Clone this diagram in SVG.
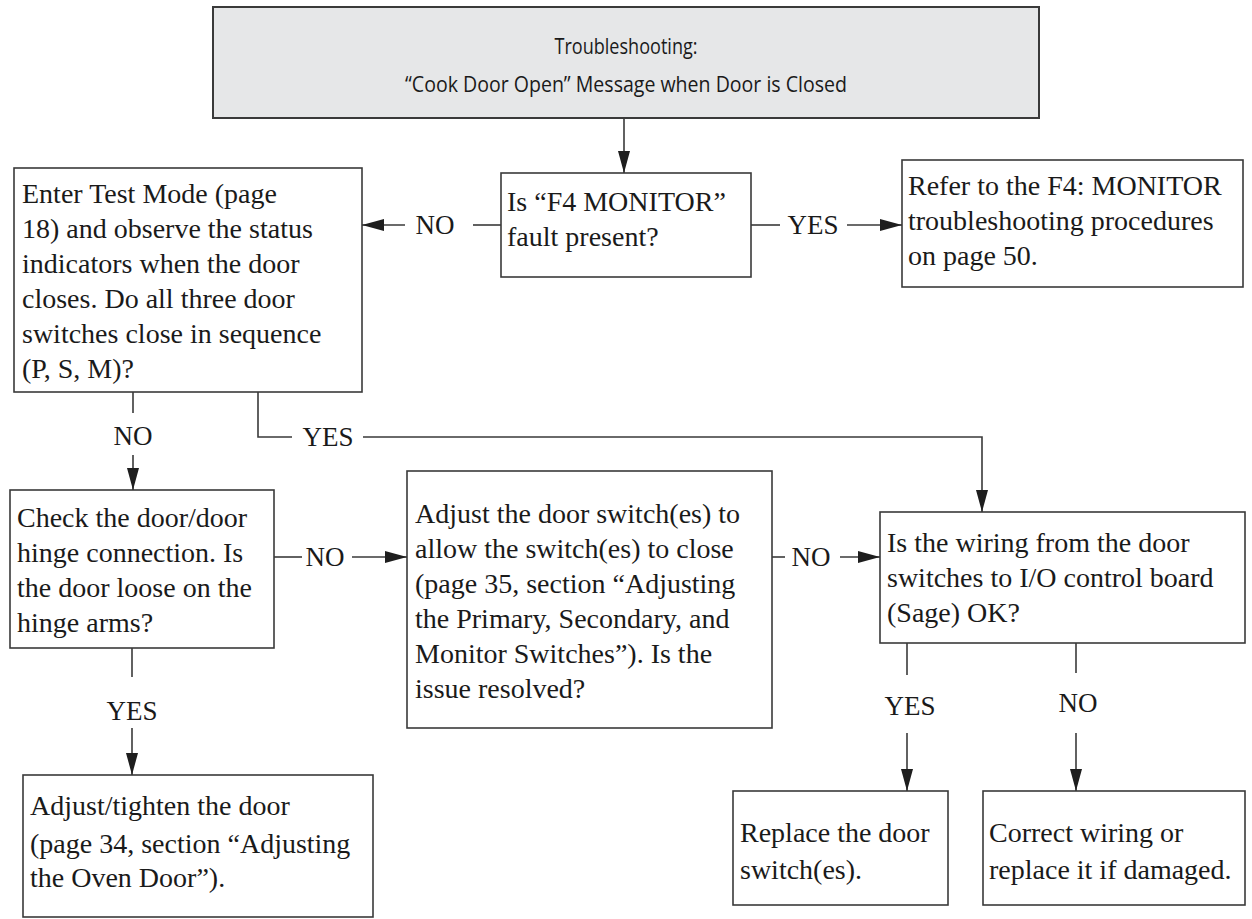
<svg xmlns="http://www.w3.org/2000/svg" width="1252" height="919" viewBox="0 0 1252 919">
<style>
.box{fill:#fff;stroke:#3a3a3a;stroke-width:1.6}
.title{fill:#e6e7e8;stroke:#3a3a3a;stroke-width:2}
.t{font-family:"Liberation Serif","Times New Roman",serif;font-size:28px;fill:#1a1a1a}
.lb{font-family:"Liberation Serif","Times New Roman",serif;font-size:27px;fill:#1a1a1a;text-anchor:middle}
.s{font-family:"Open Sans","Noto Sans",sans-serif;font-size:21px;fill:#1a1a1a;text-anchor:middle}
.c{fill:none;stroke:#3a3a3a;stroke-width:1.6}
.a{marker-end:url(#ah)}
</style>
<defs>
<marker id="ah" markerUnits="userSpaceOnUse" markerWidth="22" markerHeight="12" refX="22" refY="6" orient="auto">
<path d="M0,0 L22,6 L0,12 Z" fill="#1e1e1e"/>
</marker>
</defs>
<g id="title">
<rect class="title" x="213" y="7" width="826" height="111"/>
<text class="s" x="626" y="54" textLength="143" lengthAdjust="spacingAndGlyphs">Troubleshooting:</text>
<text class="s" x="626" y="92" textLength="442" lengthAdjust="spacingAndGlyphs">“Cook Door Open” Message when Door is Closed</text>
</g>
<g id="f4">
<rect class="box" x="501" y="173" width="250" height="104"/>
<text class="t" x="507" y="211">Is “F4 MONITOR”</text>
<text class="t" x="507" y="246">fault present?</text>
</g>
<g id="refer">
<rect class="box" x="902" y="160" width="341" height="127"/>
<text class="t" x="908" y="195">Refer to the F4: MONITOR</text>
<text class="t" x="908" y="230">troubleshooting procedures</text>
<text class="t" x="908" y="265">on page 50.</text>
</g>
<g id="enter">
<rect class="box" x="14" y="168" width="348" height="224"/>
<text class="t" x="22" y="203">Enter Test Mode (page</text>
<text class="t" x="22" y="238">18) and observe the status</text>
<text class="t" x="22" y="273">indicators when the door</text>
<text class="t" x="22" y="308">closes. Do all three door</text>
<text class="t" x="22" y="343">switches close in sequence</text>
<text class="t" x="22" y="378">(P, S, M)?</text>
</g>
<g id="check">
<rect class="box" x="10" y="490" width="264" height="158"/>
<text class="t" x="17" y="527">Check the door/door</text>
<text class="t" x="17" y="562">hinge connection. Is</text>
<text class="t" x="17" y="597">the door loose on the</text>
<text class="t" x="17" y="632">hinge arms?</text>
</g>
<g id="adjust">
<rect class="box" x="407" y="471" width="365" height="257"/>
<text class="t" x="415" y="523">Adjust the door switch(es) to</text>
<text class="t" x="415" y="558">allow the switch(es) to close</text>
<text class="t" x="415" y="593">(page 35, section “Adjusting</text>
<text class="t" x="415" y="628">the Primary, Secondary, and</text>
<text class="t" x="415" y="663">Monitor Switches”). Is the</text>
<text class="t" x="415" y="698">issue resolved?</text>
</g>
<g id="wiring">
<rect class="box" x="880" y="512" width="365" height="131"/>
<text class="t" x="887" y="552">Is the wiring from the door</text>
<text class="t" x="887" y="587">switches to I/O control board</text>
<text class="t" x="887" y="622">(Sage) OK?</text>
</g>
<g id="tighten">
<rect class="box" x="23" y="775" width="350" height="142"/>
<text class="t" x="30" y="815">Adjust/tighten the door</text>
<text class="t" x="30" y="853">(page 34, section “Adjusting</text>
<text class="t" x="30" y="887">the Oven Door”).</text>
</g>
<g id="replace">
<rect class="box" x="733" y="791" width="215" height="114"/>
<text class="t" x="740" y="842">Replace the door</text>
<text class="t" x="740" y="879">switch(es).</text>
</g>
<g id="correct">
<rect class="box" x="983" y="791" width="262" height="114"/>
<text class="t" x="989" y="842">Correct wiring or</text>
<text class="t" x="989" y="879">replace it if damaged.</text>
</g>
<g id="connectors">
<line class="c a" x1="624" y1="118" x2="624" y2="173"/>
<line class="c" x1="501" y1="225" x2="473" y2="225"/>
<text class="lb" x="435" y="234">NO</text>
<line class="c a" x1="405" y1="225" x2="362" y2="225"/>
<line class="c" x1="751" y1="225" x2="780" y2="225"/>
<text class="lb" x="813" y="234">YES</text>
<line class="c a" x1="847" y1="225" x2="902" y2="225"/>
<line class="c" x1="133" y1="392" x2="133" y2="413"/>
<text class="lb" x="133" y="445">NO</text>
<line class="c a" x1="133" y1="455" x2="133" y2="490"/>
<polyline class="c" points="258,392 258,437 292,437"/>
<text class="lb" x="328" y="446">YES</text>
<polyline class="c a" points="363,437 982,437 982,512"/>
<line class="c" x1="274" y1="557" x2="302" y2="557"/>
<text class="lb" x="325" y="566">NO</text>
<line class="c a" x1="352" y1="557" x2="407" y2="557"/>
<line class="c" x1="772" y1="557" x2="785" y2="557"/>
<text class="lb" x="811" y="566">NO</text>
<line class="c a" x1="840" y1="557" x2="880" y2="557"/>
<line class="c" x1="132" y1="648" x2="132" y2="677"/>
<text class="lb" x="132" y="720">YES</text>
<line class="c a" x1="132" y1="728" x2="132" y2="775"/>
<line class="c" x1="907" y1="643" x2="907" y2="675"/>
<text class="lb" x="910" y="715">YES</text>
<line class="c a" x1="907" y1="733" x2="907" y2="791"/>
<line class="c" x1="1076" y1="643" x2="1076" y2="673"/>
<text class="lb" x="1078" y="712">NO</text>
<line class="c a" x1="1076" y1="733" x2="1076" y2="791"/>
</g>
</svg>
